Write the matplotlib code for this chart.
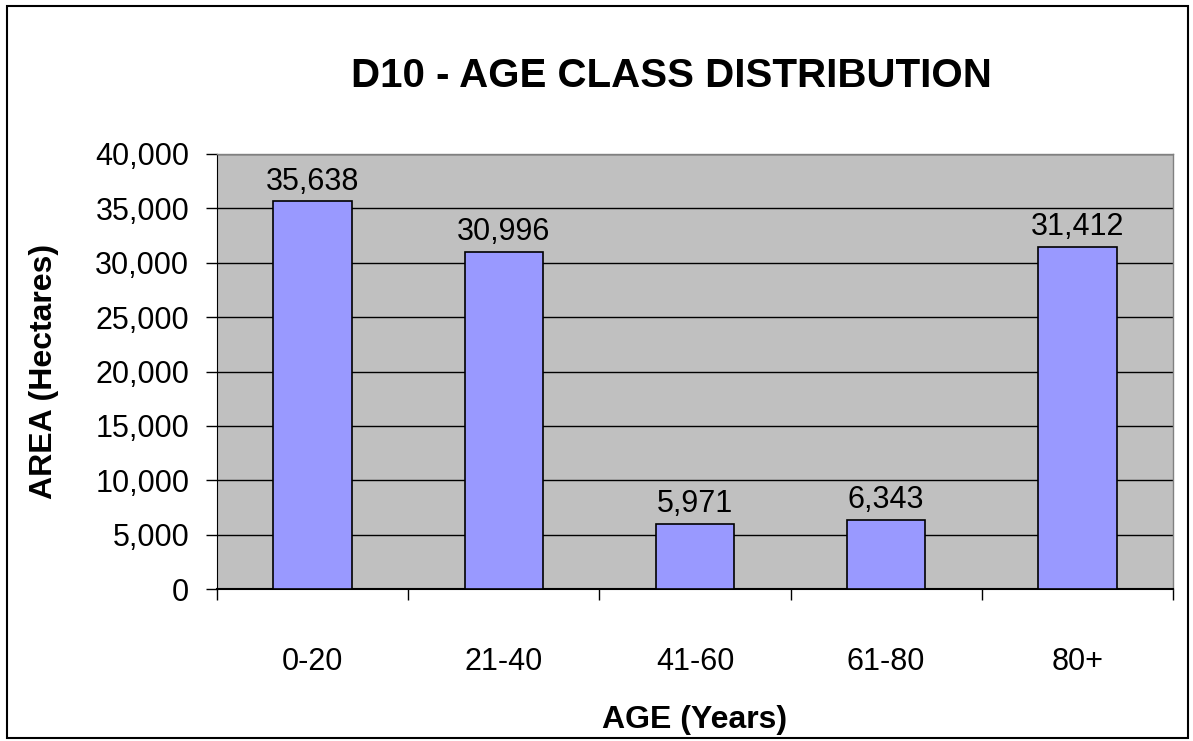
import matplotlib.pyplot as plt
from matplotlib.patches import Rectangle
import numpy as np

# Data
age_classes = ['0-20', '21-40', '41-60', '61-80', '80+']
area_ha = [35638, 30996, 5971, 6343, 31412]

plt.rcParams['font.family'] = ['Liberation Sans', 'DejaVu Sans']

fig = plt.figure(figsize=(11.93, 7.41), dpi=100)
ax = fig.add_axes([0.1819, 0.2051, 0.9832 - 0.1819, 0.7922 - 0.2051])

x = np.arange(len(age_classes))
ax.set_facecolor('#C0C0C0')
ax.yaxis.grid(True, color='black', linewidth=1)
ax.set_axisbelow(True)
bars = ax.bar(x, area_ha, width=0.41, color='#9999FF', edgecolor='black', linewidth=1.2, zorder=3)

# value labels above bars
for xi, v in zip(x, area_ha):
    ax.text(xi, v + 450, f'{v:,}', ha='center', va='bottom', fontsize=22)

ax.set_xlim(-0.5, len(age_classes) - 0.5)
ax.set_ylim(0, 40000)
ax.set_yticks(np.arange(0, 40001, 5000))
ax.set_yticklabels([f'{v:,}' for v in range(0, 40001, 5000)], fontsize=22)
ax.set_xticks(x)
ax.set_xticklabels(age_classes, fontsize=22)
ax.set_xticks(np.arange(-0.5, len(age_classes)), minor=True)
ax.tick_params(axis='x', which='major', length=0, pad=42)
ax.tick_params(axis='x', which='minor', length=8, width=1, direction='out')
ax.tick_params(axis='y', length=8, width=1, direction='out', pad=12)

for s in ['top', 'right']:
    ax.spines[s].set_color('#808080')
    ax.spines[s].set_linewidth(1)
ax.spines['left'].set_color('black')
ax.spines['bottom'].set_color('black')
ax.spines['bottom'].set_linewidth(1.5)

ax.set_xlabel('AGE (Years)', fontsize=23, fontweight='bold', labelpad=20)
ax.set_ylabel('AREA (Hectares)', fontsize=23, fontweight='bold', labelpad=26)
fig.text(0.563, 0.898, 'D10 - AGE CLASS DISTRIBUTION', ha='center', va='center',
         fontsize=29, fontweight='bold')

# chart border
fig.patches.append(Rectangle((0.006, 0.004), 0.9895, 0.988, transform=fig.transFigure,
                             fill=False, edgecolor='black', linewidth=1.5))

fig.savefig('out.png', dpi=100)
